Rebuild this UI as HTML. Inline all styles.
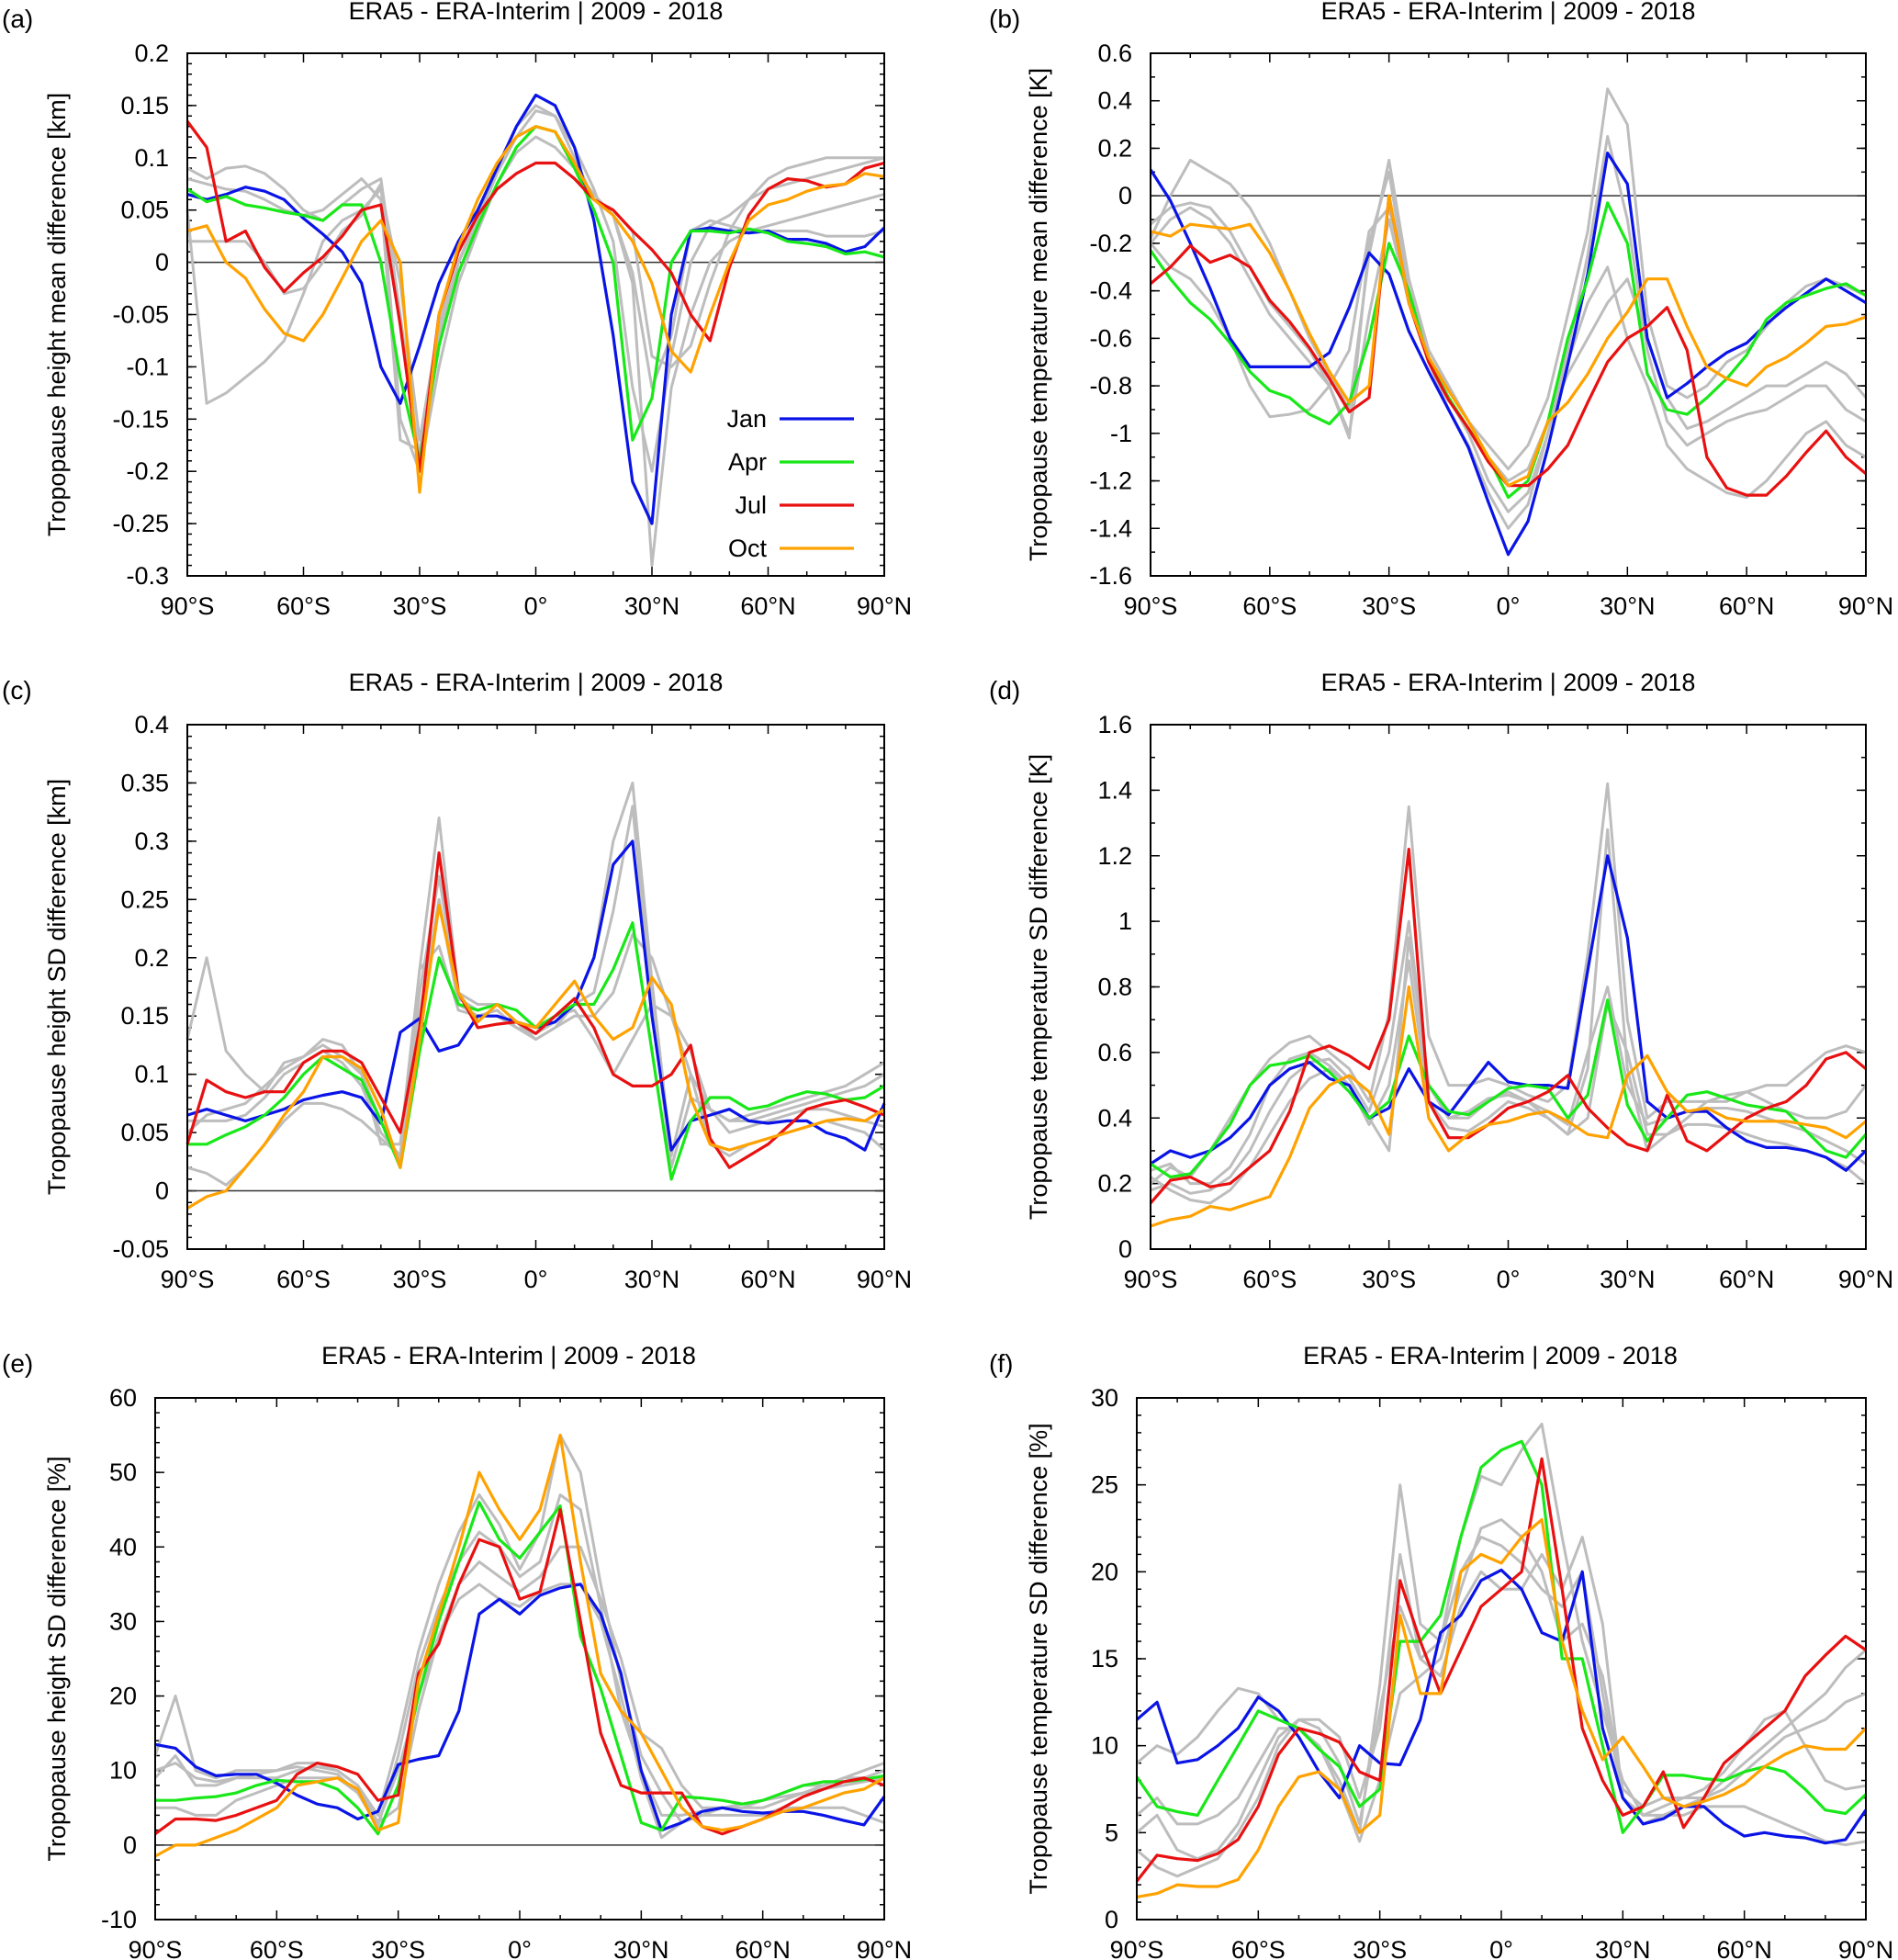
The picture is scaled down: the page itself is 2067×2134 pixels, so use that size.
<!DOCTYPE html>
<html><head><meta charset="utf-8">
<style>
html,body{margin:0;padding:0;background:#fff;}
svg{display:block;font-family:"Liberation Sans",sans-serif;}
</style></head>
<body>
<svg id="fig" width="2067" height="2134" viewBox="0 0 2067 2134" xmlns="http://www.w3.org/2000/svg"></svg>
<script>
const lats = [-90,-85,-80,-75,-70,-65,-60,-55,-50,-45,-40,-35,-30,-25,-20,-15,-10,-5,0,5,10,15,20,25,30,35,40,45,50,55,60,65,70,75,80,85,90];
const xTickLabels = ["90°S","60°S","30°S","0°","30°N","60°N","90°N"];
const xTickValues = [-90,-60,-30,0,30,60,90];
const months = ["Jan","Apr","Jul","Oct"];

// Panel (a)
const aJan = [0.065,0.06,0.065,0.072,0.068,0.06,0.042,0.027,0.01,-0.02,-0.1,-0.135,-0.08,-0.02,0.02,0.05,0.09,0.13,0.16,0.15,0.11,0.04,-0.07,-0.21,-0.25,-0.05,0.03,0.033,0.03,0.028,0.03,0.022,0.022,0.018,0.01,0.015,0.033];
const aApr = [0.07,0.058,0.063,0.055,0.052,0.048,0.045,0.04,0.055,0.055,0.0,-0.11,-0.19,-0.08,-0.01,0.035,0.075,0.11,0.13,0.125,0.09,0.05,0.0,-0.17,-0.13,0.0,0.03,0.03,0.028,0.032,0.028,0.02,0.018,0.015,0.008,0.01,0.005];
const aJul = [0.135,0.11,0.02,0.03,-0.005,-0.028,-0.01,0.005,0.025,0.05,0.055,-0.06,-0.2,-0.05,0.01,0.045,0.07,0.085,0.095,0.095,0.08,0.06,0.05,0.03,0.012,-0.01,-0.05,-0.075,-0.005,0.045,0.07,0.08,0.078,0.072,0.075,0.09,0.095];
const aOct = [0.03,0.035,0.0,-0.015,-0.045,-0.068,-0.075,-0.05,-0.015,0.02,0.04,0.0,-0.22,-0.05,0.015,0.06,0.095,0.12,0.13,0.125,0.095,0.06,0.045,0.02,-0.02,-0.085,-0.105,-0.05,0.0,0.04,0.055,0.06,0.068,0.073,0.075,0.085,0.082];
const aGray1 = [0.09,0.08,0.09,0.092,0.085,0.07,0.05,0.04,0.055,0.07,0.08,-0.05,-0.19,-0.08,0.0,0.04,0.085,0.12,0.145,0.14,0.1,0.06,0.05,0.03,-0.09,-0.1,-0.08,-0.02,0.03,0.06,0.08,0.09,0.095,0.1,0.1,0.1,0.1];
const aGray2 = [0.05,-0.135,-0.125,-0.11,-0.095,-0.075,-0.03,0.02,0.04,0.05,0.07,-0.02,-0.17,-0.06,0.0,0.04,0.07,0.085,0.095,0.095,0.08,0.06,0.045,-0.02,-0.29,-0.12,-0.05,0.0,0.02,0.03,0.035,0.04,0.045,0.05,0.055,0.06,0.065];
const aGray3 = [0.02,0.02,0.02,0.02,0.0,-0.03,-0.025,0.0,0.03,0.045,0.075,-0.15,-0.2,-0.1,-0.02,0.03,0.075,0.105,0.12,0.11,0.09,0.065,0.045,-0.01,-0.12,-0.07,0.03,0.04,0.035,0.03,0.03,0.03,0.03,0.025,0.025,0.025,0.03];
const aGray4 = [0.08,0.075,0.07,0.068,0.06,0.05,0.045,0.05,0.065,0.08,0.06,-0.17,-0.18,-0.07,0.0,0.045,0.09,0.13,0.15,0.14,0.11,0.07,0.02,-0.12,-0.2,-0.09,0.0,0.035,0.045,0.06,0.07,0.075,0.08,0.085,0.09,0.095,0.1];
const aYTicks = [-0.3,-0.25,-0.2,-0.15,-0.1,-0.05,0,0.05,0.1,0.15,0.2];
const aYTickLabels = ["-0.3","-0.25","-0.2","-0.15","-0.1","-0.05","0","0.05","0.1","0.15","0.2"];

// Panel (b)
const bJan = [0.11,-0.02,-0.2,-0.39,-0.6,-0.72,-0.72,-0.72,-0.72,-0.66,-0.47,-0.24,-0.33,-0.57,-0.74,-0.9,-1.06,-1.29,-1.51,-1.37,-1.06,-0.71,-0.33,0.18,0.05,-0.6,-0.85,-0.79,-0.72,-0.66,-0.62,-0.54,-0.47,-0.41,-0.35,-0.4,-0.45];
const bApr = [-0.23,-0.35,-0.45,-0.52,-0.62,-0.74,-0.82,-0.85,-0.92,-0.96,-0.87,-0.6,-0.2,-0.4,-0.7,-0.85,-0.98,-1.1,-1.27,-1.2,-0.95,-0.6,-0.35,-0.03,-0.2,-0.75,-0.9,-0.92,-0.85,-0.77,-0.67,-0.52,-0.45,-0.42,-0.39,-0.37,-0.42];
const bJul = [-0.37,-0.3,-0.21,-0.28,-0.25,-0.3,-0.44,-0.53,-0.64,-0.77,-0.91,-0.85,0.0,-0.45,-0.7,-0.86,-0.98,-1.12,-1.22,-1.22,-1.15,-1.05,-0.87,-0.7,-0.6,-0.55,-0.47,-0.65,-1.1,-1.23,-1.26,-1.26,-1.18,-1.08,-0.99,-1.1,-1.17];
const bOct = [-0.15,-0.17,-0.12,-0.13,-0.14,-0.12,-0.24,-0.4,-0.58,-0.74,-0.87,-0.8,0.0,-0.45,-0.68,-0.82,-0.95,-1.1,-1.22,-1.18,-0.95,-0.87,-0.75,-0.6,-0.49,-0.35,-0.35,-0.55,-0.72,-0.77,-0.8,-0.72,-0.68,-0.62,-0.55,-0.54,-0.51];
const bGray1 = [-0.18,0.0,0.15,0.1,0.05,-0.05,-0.2,-0.4,-0.6,-0.75,-0.9,-0.25,0.15,-0.35,-0.65,-0.8,-0.95,-1.05,-1.15,-1.05,-0.85,-0.5,-0.15,0.45,0.3,-0.5,-0.8,-0.85,-0.8,-0.7,-0.65,-0.55,-0.45,-0.38,-0.35,-0.38,-0.42];
const bGray2 = [-0.2,-0.1,-0.05,-0.1,-0.2,-0.35,-0.5,-0.6,-0.7,-0.8,-1.0,-0.5,-0.1,-0.45,-0.7,-0.9,-1.05,-1.25,-1.4,-1.3,-1.0,-0.7,-0.45,-0.3,-0.6,-0.8,-1.05,-1.15,-1.2,-1.25,-1.27,-1.2,-1.1,-1.0,-0.95,-1.05,-1.1];
const bGray3 = [-0.2,-0.3,-0.35,-0.45,-0.6,-0.8,-0.93,-0.92,-0.9,-0.8,-0.65,-0.15,-0.05,-0.4,-0.65,-0.8,-0.95,-1.1,-1.2,-1.15,-0.95,-0.75,-0.6,-0.45,-0.35,-0.6,-0.85,-0.98,-0.95,-0.9,-0.85,-0.8,-0.8,-0.75,-0.7,-0.75,-0.85];
const bGray4 = [-0.12,-0.05,-0.03,-0.05,-0.15,-0.3,-0.45,-0.55,-0.65,-0.8,-1.02,-0.2,0.1,-0.42,-0.68,-0.85,-1.0,-1.2,-1.33,-1.25,-1.0,-0.65,-0.25,0.25,-0.1,-0.65,-0.95,-1.05,-1.0,-0.95,-0.92,-0.9,-0.85,-0.8,-0.8,-0.9,-0.95];
const bYTicks = [-1.6,-1.4,-1.2,-1,-0.8,-0.6,-0.4,-0.2,0,0.2,0.4,0.6];
const bYTickLabels = ["-1.6","-1.4","-1.2","-1","-0.8","-0.6","-0.4","-0.2","0","0.2","0.4","0.6"];

// Panel (c)
const cJan = [0.065,0.07,0.065,0.06,0.065,0.07,0.078,0.082,0.085,0.08,0.058,0.136,0.148,0.12,0.125,0.15,0.15,0.145,0.14,0.145,0.16,0.2,0.28,0.3,0.15,0.035,0.06,0.065,0.07,0.06,0.058,0.06,0.06,0.05,0.045,0.035,0.075];
const cApr = [0.04,0.04,0.048,0.055,0.065,0.08,0.1,0.115,0.105,0.095,0.06,0.02,0.12,0.2,0.16,0.155,0.16,0.155,0.14,0.15,0.16,0.16,0.19,0.23,0.12,0.01,0.06,0.08,0.08,0.07,0.073,0.08,0.085,0.083,0.078,0.08,0.09];
const cJul = [0.04,0.095,0.085,0.08,0.085,0.085,0.11,0.12,0.12,0.11,0.08,0.05,0.14,0.29,0.17,0.14,0.143,0.145,0.135,0.15,0.165,0.14,0.1,0.09,0.09,0.1,0.125,0.045,0.02,0.03,0.04,0.055,0.07,0.075,0.078,0.072,0.065];
const cOct = [-0.015,-0.005,0.0,0.02,0.04,0.065,0.085,0.115,0.115,0.105,0.07,0.02,0.13,0.245,0.17,0.145,0.16,0.145,0.14,0.16,0.18,0.15,0.13,0.14,0.183,0.16,0.08,0.04,0.035,0.04,0.045,0.05,0.055,0.06,0.062,0.06,0.07];
const cGray1 = [0.13,0.2,0.12,0.1,0.085,0.11,0.115,0.13,0.125,0.1,0.04,0.04,0.19,0.32,0.17,0.16,0.16,0.145,0.13,0.14,0.16,0.2,0.3,0.35,0.18,0.03,0.1,0.07,0.06,0.065,0.07,0.075,0.08,0.085,0.09,0.1,0.11];
const cGray2 = [0.02,0.015,0.005,0.02,0.04,0.06,0.075,0.075,0.07,0.06,0.045,0.03,0.19,0.21,0.155,0.15,0.15,0.14,0.13,0.14,0.15,0.15,0.17,0.22,0.2,0.15,0.1,0.04,0.03,0.04,0.045,0.05,0.055,0.06,0.055,0.05,0.035];
const cGray3 = [0.06,0.06,0.06,0.065,0.08,0.1,0.11,0.12,0.11,0.09,0.05,0.03,0.15,0.25,0.16,0.15,0.155,0.14,0.135,0.15,0.155,0.13,0.1,0.13,0.16,0.15,0.12,0.07,0.05,0.055,0.06,0.065,0.07,0.07,0.065,0.06,0.055];
const cGray4 = [0.05,0.065,0.07,0.075,0.09,0.105,0.115,0.125,0.115,0.1,0.06,0.025,0.17,0.27,0.165,0.155,0.16,0.145,0.135,0.145,0.16,0.17,0.24,0.33,0.16,0.02,0.08,0.07,0.06,0.06,0.065,0.07,0.075,0.08,0.085,0.09,0.1];
const cYTicks = [-0.05,0,0.05,0.1,0.15,0.2,0.25,0.3,0.35,0.4];
const cYTickLabels = ["-0.05","0","0.05","0.1","0.15","0.2","0.25","0.3","0.35","0.4"];

// Panel (d)
const dJan = [0.26,0.3,0.28,0.3,0.34,0.4,0.5,0.55,0.57,0.52,0.5,0.4,0.43,0.55,0.45,0.41,0.49,0.57,0.51,0.5,0.5,0.49,0.85,1.2,0.95,0.45,0.4,0.42,0.42,0.37,0.33,0.31,0.31,0.3,0.28,0.24,0.3];
const dApr = [0.26,0.22,0.23,0.3,0.38,0.5,0.56,0.57,0.59,0.54,0.48,0.4,0.45,0.65,0.5,0.42,0.41,0.45,0.49,0.5,0.49,0.4,0.47,0.76,0.44,0.33,0.4,0.47,0.48,0.46,0.44,0.43,0.42,0.36,0.3,0.28,0.35];
const dJul = [0.14,0.21,0.22,0.19,0.2,0.25,0.3,0.42,0.6,0.62,0.59,0.55,0.7,1.22,0.45,0.34,0.34,0.38,0.43,0.45,0.48,0.53,0.43,0.37,0.32,0.3,0.47,0.33,0.3,0.35,0.4,0.43,0.45,0.5,0.58,0.6,0.55];
const dOct = [0.07,0.09,0.1,0.13,0.12,0.14,0.16,0.28,0.43,0.5,0.53,0.48,0.35,0.8,0.4,0.3,0.35,0.38,0.39,0.41,0.42,0.39,0.35,0.34,0.53,0.59,0.48,0.42,0.43,0.4,0.39,0.39,0.39,0.38,0.37,0.34,0.39];
const dGray1 = [0.2,0.25,0.22,0.3,0.4,0.5,0.58,0.63,0.65,0.6,0.55,0.45,0.72,1.35,0.65,0.5,0.5,0.52,0.5,0.47,0.45,0.5,0.9,1.42,0.7,0.4,0.45,0.45,0.45,0.45,0.48,0.5,0.5,0.55,0.6,0.62,0.6];
const dGray2 = [0.22,0.18,0.15,0.14,0.18,0.25,0.35,0.45,0.52,0.55,0.5,0.4,0.3,0.95,0.5,0.4,0.4,0.45,0.48,0.45,0.4,0.35,0.4,0.75,0.6,0.35,0.35,0.38,0.38,0.37,0.35,0.33,0.32,0.3,0.28,0.25,0.2];
const dGray3 = [0.24,0.26,0.2,0.2,0.25,0.35,0.5,0.58,0.6,0.56,0.5,0.38,0.5,0.88,0.45,0.37,0.36,0.4,0.45,0.43,0.4,0.35,0.55,1.28,0.55,0.3,0.35,0.4,0.45,0.47,0.48,0.45,0.42,0.4,0.4,0.42,0.5];
const dGray4 = [0.18,0.2,0.17,0.18,0.22,0.3,0.42,0.52,0.57,0.58,0.52,0.42,0.6,1.0,0.5,0.4,0.42,0.46,0.47,0.45,0.42,0.38,0.6,0.8,0.5,0.38,0.4,0.42,0.43,0.43,0.42,0.4,0.38,0.36,0.33,0.3,0.26];
const dYTicks = [0,0.2,0.4,0.6,0.8,1,1.2,1.4,1.6];
const dYTickLabels = ["0","0.2","0.4","0.6","0.8","1","1.2","1.4","1.6"];

// Panel (e)
const eJan = [13.5,13,10.5,9.3,9.5,9.5,8.3,6.7,5.5,5.0,3.5,4.5,10.8,11.5,12,18,31,33,31,33.5,34.5,35,31,23,10,2.0,3.0,4.5,5.0,4.5,4.3,4.5,4.5,4.0,3.3,2.7,6.5];
const eApr = [6,6,6.3,6.5,7.0,8.0,8.7,8.5,8.5,7.5,5.0,1.5,8,20,30,38,46,41,38.5,42,45.5,28,21,12,3,2,6.5,6.3,6.0,5.5,6.0,7.0,8.0,8.5,8.5,8.8,9.3];
const eJul = [1.5,3.5,3.5,3.3,4.0,5.0,6.0,9.5,11,10.5,9.5,6.0,6.7,23,27,35,41,40,33,34,45,30,15,8,7,7,7,2.5,1.5,2.5,3.5,5,6.5,7.5,8.5,9,8];
const eOct = [-1.5,0,0,1,2,3.5,5,8,8.5,9,7.5,2,3,22,31,40,50,45,41,45,55,38,23,18,15,10,5,2.5,2.0,2.5,3.5,4.5,5.0,6.0,7.0,7.5,9];
const eGray1 = [12,20,10,9,10,10,10,11,11,10,8,4,14,26,35,42,47,43,37,42,55,50,35,22,12,7,3,4,5,5,5,6,7,8,9,10,11];
const eGray2 = [9,12,8,8,9,9,9,10,10.5,10,8,3,5,18,28,33,35,33,32,34,35,35,30,20,9,1,3,4,4,4,4,5,5,5,5,4,3];
const eGray3 = [5,5,4,4,6,7,8,9,9,9,7,3,10,20,28,35,38,36,34,36,40,40,33,25,15,13,8,5,5,5,6,7,8,8,9,9,10];
const eGray4 = [10,11,9,8.5,9,9.5,10,10.5,10,9.5,7,2.5,12,24,32,38,42,40,36,38,47,45,32,18,10,4,4,4.5,5,5.5,6,6.5,7,7.5,8,8.5,9];
const eYTicks = [-10,0,10,20,30,40,50,60];
const eYTickLabels = ["-10","0","10","20","30","40","50","60"];

// Panel (f)
const fJan = [11.5,12.5,9,9.2,10,11,12.8,12,10.5,8.5,7.0,10,9.0,8.9,11.5,16.5,17.5,19.5,20.1,19,16.5,16,20,11,7,5.5,5.8,6.5,6.5,5.5,4.8,5.0,4.8,4.7,4.4,4.6,6.3];
const fApr = [8.2,6.5,6.2,6.0,8.0,10,12,11.5,11,9.8,8.8,6.5,7.5,16,16,17.5,22,26,27,27.5,25,15,15,10,5,6.5,8.3,8.3,8.1,8.0,8.5,8.8,8.5,7.5,6.3,6.1,7.2];
const fJul = [2.2,3.7,3.5,3.4,3.8,4.6,6.5,9.5,11,10.7,10.2,8.5,8.0,19.5,16,13,15.5,18,19,20,26.5,19,11,8,6,6.5,8.5,5.3,7.0,9.0,10,11,12,14,15.2,16.3,15.5];
const fOct = [1.3,1.5,2.0,1.9,1.9,2.3,4,6.5,8.2,8.5,7.5,5,6,17.5,13,13,20,21,20.5,22,23,16,12,9.2,10.5,8.8,7,6.5,6.8,7.2,7.8,8.8,9.5,10,9.8,9.8,11];
const fGray1 = [9,10,9.5,10.5,12,13.3,13,11.5,11,10,8,5,13.5,25,17,16,22,25.5,25,27,28.5,22,16,12,8,6,6,6.5,7,8,9,10,11,12,13,14.5,15.5];
const fGray2 = [4,3,2.5,3,3.5,5,7,10,11.5,11.5,10.5,7,11,21,15,14,18,20,19,19,21,19,22,17,7,5.5,6,6,6.5,6.5,6.5,6,5.5,5,4.5,4.3,4.5];
const fGray3 = [6,7,5.5,5.5,6,7,9,11,11,10,7.5,4.5,8,13,14,15,19,22.5,23,22,20,16,17,14,7.5,6.5,7,7,7.5,8.5,10,11.5,12,10,8,7.5,7.7];
const fGray4 = [5,6,4,3.5,4,5.5,8,10.5,11.5,11,9,5.5,12,18,15,16,20,22,21.5,20.5,19,18,20,13,7,6,6.5,7,7,7.5,8.5,9.5,10.5,11,11.5,12.5,13];
const fYTicks = [0,5,10,15,20,25,30];
const fYTickLabels = ["0","5","10","15","20","25","30"];

const NS = "http://www.w3.org/2000/svg";
const svg = document.getElementById("fig");
const COLORS = {Jan:"#0a14e6", Apr:"#18e818", Jul:"#e81010", Oct:"#ffa200"};
function mk(tag, attrs, parent){
  const el = document.createElementNS(NS, tag);
  for (const k in attrs) el.setAttribute(k, attrs[k]);
  (parent||svg).appendChild(el);
  return el;
}

const panels = [
  {id:"a", L:204, R:963, T:58, B:627, ymin:-0.3, ymax:0.2, minor:0.01, ticks:aYTicks, tl:aYTickLabels, ylab:"Tropopause height mean difference [km]", zero:true, series:[aJan,aApr,aJul,aOct], grays:[aGray1,aGray2,aGray3,aGray4], labx:71, legend:true},
  {id:"b", L:1253, R:2032, T:58, B:627, ymin:-1.6, ymax:0.6, minor:0.1, ticks:bYTicks, tl:bYTickLabels, ylab:"Tropopause temperature mean difference [K]", zero:true, series:[bJan,bApr,bJul,bOct], grays:[bGray1,bGray2,bGray3,bGray4], labx:1140},
  {id:"c", L:204, R:963, T:789, B:1360, ymin:-0.05, ymax:0.4, minor:0.01, ticks:cYTicks, tl:cYTickLabels, ylab:"Tropopause height SD difference [km]", zero:true, series:[cJan,cApr,cJul,cOct], grays:[cGray1,cGray2,cGray3,cGray4], labx:71},
  {id:"d", L:1253, R:2032, T:789, B:1360, ymin:0, ymax:1.6, minor:0.1, ticks:dYTicks, tl:dYTickLabels, ylab:"Tropopause temperature SD difference [K]", zero:false, series:[dJan,dApr,dJul,dOct], grays:[dGray1,dGray2,dGray3,dGray4], labx:1140},
  {id:"e", L:169, R:963, T:1522, B:2090, ymin:-10, ymax:60, minor:2, ticks:eYTicks, tl:eYTickLabels, ylab:"Tropopause height SD difference [%]", zero:true, series:[eJan,eApr,eJul,eOct], grays:[eGray1,eGray2,eGray3,eGray4], labx:71},
  {id:"f", L:1238, R:2032, T:1522, B:2090, ymin:0, ymax:30, minor:1, ticks:fYTicks, tl:fYTickLabels, ylab:"Tropopause temperature SD difference [%]", zero:false, series:[fJan,fApr,fJul,fOct], grays:[fGray1,fGray2,fGray3,fGray4], labx:1140}
];

panels.forEach(p => {
  const g = mk("g", {});
  
  
  const xs = v => p.L + (v + 90) / 180 * (p.R - p.L);
  const ys = v => p.B - (v - p.ymin) / (p.ymax - p.ymin) * (p.B - p.T);
  const panelLeft = p.id === "a" || p.id === "c" || p.id === "e" ? 0 : 1075;

  const pl = mk("text", {x: panelLeft + 2, y: p.T - 28, "font-size": 28, fill: "#000"}, g);
  pl.textContent = "(" + p.id + ")";
  
  

  const tt = mk("text", {x: (p.L + p.R) / 2 + (p.id==="e"||p.id==="f" ? -12 : 0), y: p.T - 37, "font-size": 27, "text-anchor": "middle", fill: "#000"}, g);
  tt.textContent = "ERA5 - ERA-Interim | 2009 - 2018";
  
  

  const ax = mk("g", {stroke: "#000", "stroke-width": 1.5}, g);
  
  
  const nMinor = Math.round((p.ymax - p.ymin) / p.minor);
  for (let i = 0; i <= nMinor; i++) {
    const v = p.ymin + i * p.minor;
    const y = ys(v);
    mk("line", {x1: p.L, x2: p.L + 5, y1: y, y2: y}, ax);
    mk("line", {x1: p.R, x2: p.R - 5, y1: y, y2: y}, ax);
  }
  p.ticks.forEach((v, i) => {
    const y = ys(v);
    mk("line", {x1: p.L, x2: p.L + 10, y1: y, y2: y}, ax);
    mk("line", {x1: p.R, x2: p.R - 10, y1: y, y2: y}, ax);
    const t = mk("text", {x: p.L - 20, y: y + 9, "font-size": 27, "text-anchor": "end", fill: "#000", stroke: "none"}, g);
    t.textContent = p.tl[i];
    
    
  });
  for (let v = -90; v <= 90; v += 10) {
    const x = xs(v);
    const len = (v % 30 === 0) ? 10 : 5;
    mk("line", {x1: x, x2: x, y1: p.B, y2: p.B - len}, ax);
    mk("line", {x1: x, x2: x, y1: p.T, y2: p.T + len}, ax);
  }
  xTickValues.forEach((v, i) => {
    const t = mk("text", {x: xs(v), y: p.B + 42, "font-size": 27, "text-anchor": "middle", fill: "#000"}, g);
    t.textContent = xTickLabels[i];
    
    
  });

  const yl = mk("text", {x: p.labx, y: (p.T + p.B) / 2, "font-size": 27, "text-anchor": "middle", fill: "#000", transform: `rotate(-90 ${p.labx} ${(p.T + p.B) / 2})`}, g);
  yl.textContent = p.ylab;
  
  

  if (p.zero) {
    const z = mk("line", {x1: p.L, x2: p.R, y1: ys(0), y2: ys(0), stroke: "#333", "stroke-width": 1.5}, g);
    
    
  }

  const path = arr => arr.map((v, i) => (i ? "L" : "M") + xs(lats[i]).toFixed(1) + "," + ys(v).toFixed(1)).join("");
  p.grays.forEach((arr, k) => {
    const l = mk("path", {d: path(arr), fill: "none", stroke: "#bdbdbd", "stroke-width": 3, "stroke-linejoin": "round"}, g);
    
    
  });
  p.series.forEach((arr, k) => {
    const l = mk("path", {d: path(arr), fill: "none", stroke: COLORS[months[k]], "stroke-width": 3.2, "stroke-linejoin": "round"}, g);
    
    
  });

  const frame = mk("rect", {x: p.L, y: p.T, width: p.R - p.L, height: p.B - p.T, fill: "none", stroke: "#000", "stroke-width": 2}, g);
  
  

  if (p.legend) {
    const lg = mk("g", {}, g);
    
    
    months.forEach((m, k) => {
      const y = 456 + k * 47;
      const t = mk("text", {x: 835, y: y + 9, "font-size": 27, "text-anchor": "end", fill: "#000"}, lg);
      t.textContent = m;
      
      
      const l = mk("line", {x1: 849, x2: 930, y1: y, y2: y, stroke: COLORS[m], "stroke-width": 3.2}, lg);
      
      
    });
  }
});
</script>
</body></html>
